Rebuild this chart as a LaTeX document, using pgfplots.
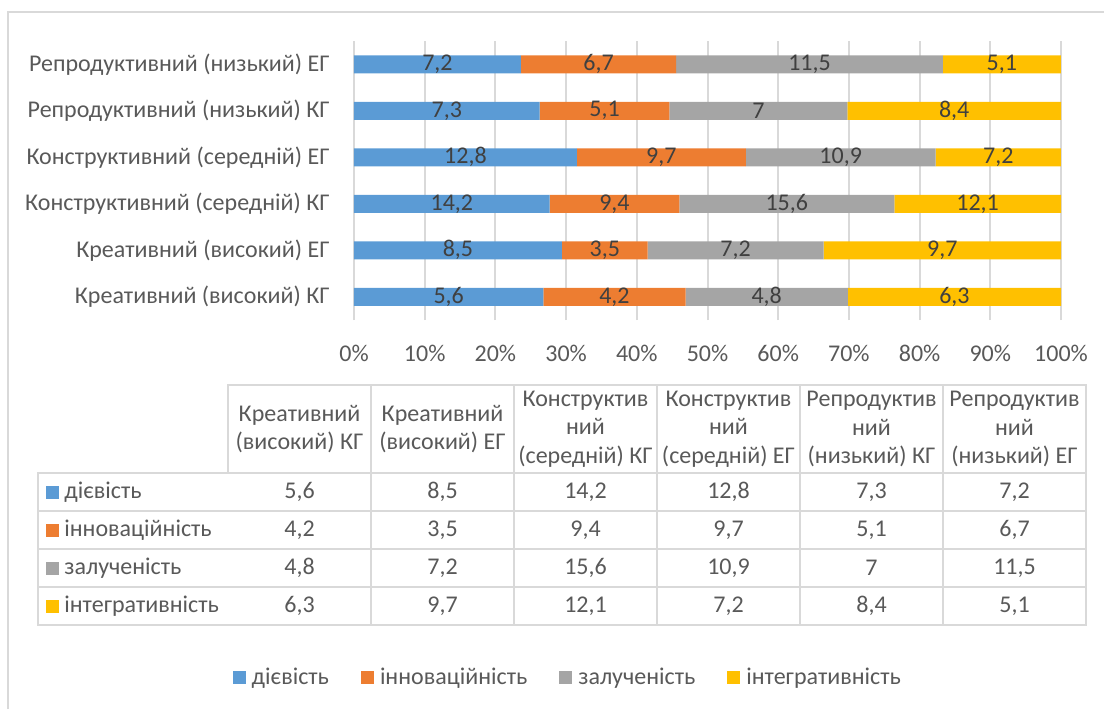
\documentclass[border=0pt]{standalone}
\usepackage{fontspec}
\setmainfont{Carlito}
\usepackage{pgfplots}
\pgfplotsset{compat=1.18}
\usepackage{pgfplotstable}

\definecolor{cD}{HTML}{5B9BD5}
\definecolor{cI}{HTML}{ED7D31}
\definecolor{cZ}{HTML}{A5A5A5}
\definecolor{cT}{HTML}{FFC000}
\definecolor{txt}{HTML}{595959}
\definecolor{lbl}{HTML}{404040}
\definecolor{rule}{HTML}{D9D9D9}

\newcommand\cf{\fontsize{12}{14.25}\selectfont}

% raw values per group; tot = row sum, used for the 100% stacking
\pgfplotstableread{
y  d    i   z    t    tot
0  5.6  4.2 4.8  6.3  20.9
1  8.5  3.5 7.2  9.7  28.9
2  14.2 9.4 15.6 12.1 51.3
3  12.8 9.7 10.9 7.2  40.6
4  7.3  5.1 7.0  8.4  27.8
5  7.2  6.7 11.5 5.1  30.5
}\data

\pgfkeys{/pgf/number format/.cd, use comma, assume math mode=true}

\begin{document}
\begin{tikzpicture}[x=0.5pt, y=-0.5pt]
% 1 unit = 1 px of the reference
\path[use as bounding box] (0,0) rectangle (1104,709);
\draw[rule, line width=1pt] (8,709) -- (8,12) -- (1104,12);
\coordinate (O) at (354,320);

\pgfplotsset{
  frame/.style={
    at={(O)}, anchor=south west, scale only axis,
    width=353.5pt, height=139.5pt,
    xmin=0, xmax=100, ymin=-0.5, ymax=5.5,
  },
}

% ---- bars ----
\begin{axis}[frame,
  xbar stacked, bar width=9pt,
  axis line style={draw=none},
  major tick length=0pt,
  xtick={0,10,...,100},
  xticklabels={0\%,10\%,20\%,30\%,40\%,50\%,60\%,70\%,80\%,90\%,100\%},
  xticklabel style={font=\cf, text=txt, inner sep=0pt, yshift=-12.5pt},
  ytick={0,...,5},
  yticklabels={Креативний (високий) КГ, Креативний (високий) ЕГ,
               Конструктивний (середній) КГ, Конструктивний (середній) ЕГ,
               Репродуктивний (низький) КГ, Репродуктивний (низький) ЕГ},
  yticklabel style={font=\cf, text=txt, inner sep=0pt, xshift=-12pt},
  xmajorgrids, grid style={rule, line width=1pt},
  legend columns=-1,
  legend style={draw=none, fill=none, font=\cf, text=txt,
    at={(0.301,-1.283)}, anchor=center,
    nodes={inner sep=0pt},
    /tikz/every odd column/.append style={column sep=3pt},
    /tikz/every even column/.append style={column sep=16pt}},
  legend image code/.code={\fill[#1] (0pt,-3.25pt) rectangle (6.5pt,3.25pt);},
]
\addplot[fill=cD, draw=none] table[x expr=\thisrow{d}/\thisrow{tot}*100, y=y]{\data};
\addplot[fill=cI, draw=none] table[x expr=\thisrow{i}/\thisrow{tot}*100, y=y]{\data};
\addplot[fill=cZ, draw=none] table[x expr=\thisrow{z}/\thisrow{tot}*100, y=y]{\data};
\addplot[fill=cT, draw=none] table[x expr=\thisrow{t}/\thisrow{tot}*100, y=y]{\data};
\legend{дієвість, інноваційність, залученість, інтегративність}
\end{axis}

% ---- value labels, centred in each segment ----
\begin{axis}[frame, hide axis,
  point meta=explicit,
  nodes near coords={\pgfmathprintnumber{\pgfplotspointmeta}},
  every node near coord/.append style={anchor=center, font=\cf, text=lbl, inner sep=0pt},
]
\addplot[draw=none, mark=none] table[y=y, meta=d,
  x expr=(\thisrow{d}/2)/\thisrow{tot}*100]{\data};
\addplot[draw=none, mark=none] table[y=y, meta=i,
  x expr=(\thisrow{d}+\thisrow{i}/2)/\thisrow{tot}*100]{\data};
\addplot[draw=none, mark=none] table[y=y, meta=z,
  x expr=(\thisrow{d}+\thisrow{i}+\thisrow{z}/2)/\thisrow{tot}*100]{\data};
\addplot[draw=none, mark=none] table[y=y, meta=t,
  x expr=(\thisrow{d}+\thisrow{i}+\thisrow{z}+\thisrow{t}/2)/\thisrow{tot}*100]{\data};
\end{axis}

% ---- data table ----
\begin{scope}[rule, line width=1pt]
  \draw (228,473) -- (228,385) -- (1086,385) -- (1086,625) -- (38,625) -- (38,473) -- (1086,473);
  \foreach \yy in {511,549,587} \draw (38,\yy) -- (1086,\yy);
  \foreach \xx in {371,514,657,800,943} \draw (\xx,385) -- (\xx,625);
\end{scope}

\foreach \k/\h in {0/{Креативний\\(високий) КГ}, 1/{Креативний\\(високий) ЕГ},
                   2/{Конструктив\\ний\\(середній) КГ}, 3/{Конструктив\\ний\\(середній) ЕГ},
                   4/{Репродуктив\\ний\\(низький) КГ}, 5/{Репродуктив\\ний\\(низький) ЕГ}}
  \node[font=\cf, text=txt, align=center, inner sep=0pt] at ({299.5+143*\k},429) {\h};

\foreach \c/\yy/\col/\name in {d/492/cD/дієвість, i/530/cI/інноваційність,
                               z/568/cZ/залученість, t/606/cT/інтегративність}{
  \fill[\col] (46,\yy-6.5) rectangle (59,\yy+6.5);
  \node[font=\cf, text=txt, anchor=west, inner sep=0pt] at (64,\yy) {\name};
  \foreach \r in {0,...,5}{
    \pgfplotstablegetelem{\r}{\c}\of\data
    \node[font=\cf, text=txt, inner sep=0pt] at ({299.5+143*\r},\yy)
      {\pgfmathprintnumber{\pgfplotsretval}};
  }
}
\end{tikzpicture}
\end{document}
